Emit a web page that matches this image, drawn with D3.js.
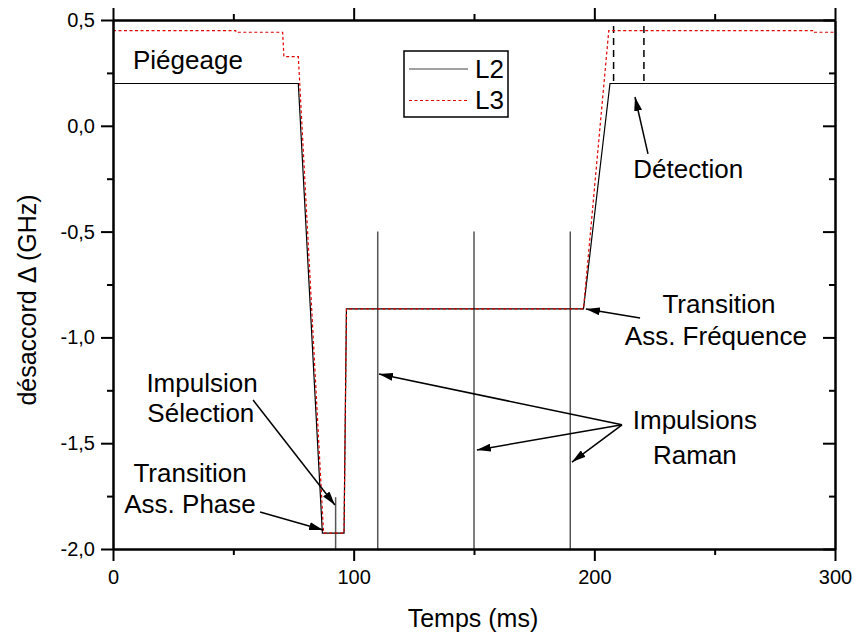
<!DOCTYPE html>
<html lang="fr">
<head>
<meta charset="UTF-8">
<title>désaccord vs temps</title>
<script src="https://d3js.org/d3.v7.min.js"></script>
<style>
  body { margin: 0; background: white; }
  svg { font-family: "Liberation Sans", Arial, sans-serif; }
  .axis path, .axis line { stroke: #000; stroke-width: 2px; }
  .axis text { font-size: 20px; fill: #000; }
  .note { font-size: 26px; fill: #000; }
</style>
</head>
<body>
<script>
// L2 (solid black) and L3 (dashed red) detuning curves, ms / GHz
const l2Time = [0, 77, 87, 96, 97, 195.5, 206.5, 300];
const l2Val  = [0.2, 0.2, -1.925, -1.925, -0.865, -0.865, 0.2, 0.2];
const l3Time = [0, 51, 51, 70.5, 71, 77, 87.5, 96, 97, 195.5, 206, 291, 291, 300];
const l3Val  = [0.45, 0.45, 0.442, 0.442, 0.327, 0.327, -1.925, -1.925, -0.865, -0.865, 0.45, 0.45, 0.442, 0.442];

const ramanPulses = [110, 150, 190];      // from -0.5 down to -2.0
const selectionPulse = 92.5;              // from -1.755 down to -2.0
const detectionMarks = [208, 220.6];      // dashed, 0.47 to 0.2

const xMajor = [0, 100, 200, 300];
const xMinor = [50, 150, 250];
const yMajor = [0.5, 0, -0.5, -1.0, -1.5, -2.0];
const yMinor = [0.25, -0.25, -0.75, -1.25, -1.75];

// annotations, data units
const labels = [
  {t: "Piégeage", x: 8.3, y: 0.268, a: "start"},
  {t: "Impulsion", x: 37, y: -1.258, a: "middle"},
  {t: "Sélection", x: 36.5, y: -1.40, a: "middle"},
  {t: "Transition", x: 32, y: -1.683, a: "middle"},
  {t: "Ass. Phase", x: 32, y: -1.83, a: "middle"},
  {t: "Détection", x: 239, y: -0.247, a: "middle"},
  {t: "Transition", x: 251.8, y: -0.885, a: "middle"},
  {t: "Ass. Fréquence", x: 250.5, y: -1.036, a: "middle"},
  {t: "Impulsions", x: 241.8, y: -1.433, a: "middle"},
  {t: "Raman", x: 241.8, y: -1.598, a: "middle"}
];
const arrows = [
  [58.2, -1.296, 92.2, -1.792],
  [61.1, -1.825, 87.3, -1.910],
  [222.3, -0.133, 216.9, 0.136],
  [219.0, -0.908, 196.5, -0.866],
  [211.5, -1.413, 110.5, -1.173],
  [211.5, -1.413, 151.2, -1.532],
  [211.5, -1.413, 190.7, -1.589]
];

const W = 854, H = 637;
const margin = {top: 20, right: 19, bottom: 88, left: 113};
const width = W - margin.left - margin.right;
const height = H - margin.top - margin.bottom;

const svg = d3.select("body").append("svg")
    .attr("width", W).attr("height", H);

svg.append("defs").append("marker")
    .attr("id", "head")
    .attr("viewBox", "0 0 14 8")
    .attr("refX", 14).attr("refY", 4)
    .attr("markerWidth", 14).attr("markerHeight", 8)
    .attr("markerUnits", "userSpaceOnUse")
    .attr("orient", "auto")
  .append("path")
    .attr("d", "M0,0L14,4L0,8Z")
    .attr("fill", "#000");

const g = svg.append("g")
    .attr("transform", "translate(" + margin.left + "," + margin.top + ")");

const x = d3.scaleLinear().domain([0, 300]).range([0, width]);
const y = d3.scaleLinear().domain([-2.0, 0.5]).range([height, 0]);

const fmt = v => v.toFixed(1).replace(".", ",");

// pulses
g.selectAll(".raman")
  .data(ramanPulses)
  .enter().append("line")
    .attr("x1", d => x(d)).attr("x2", d => x(d))
    .attr("y1", y(-0.5)).attr("y2", y(-2.0))
    .attr("stroke", "#555").attr("stroke-width", 1.5);

g.append("line")
    .attr("x1", x(selectionPulse)).attr("x2", x(selectionPulse))
    .attr("y1", y(-1.755)).attr("y2", y(-2.0))
    .attr("stroke", "#555").attr("stroke-width", 1.5);

g.selectAll(".detect")
  .data(detectionMarks)
  .enter().append("line")
    .attr("x1", d => x(d)).attr("x2", d => x(d))
    .attr("y1", y(0.472)).attr("y2", y(0.2))
    .attr("stroke", "#000").attr("stroke-width", 1.5)
    .attr("stroke-dasharray", "7,5");

// curves
const line = d3.line().x(d => x(d[0])).y(d => y(d[1]));

g.append("path")
    .datum(d3.zip(l2Time, l2Val))
    .attr("d", line)
    .attr("fill", "none")
    .attr("stroke", "#000").attr("stroke-width", 1.2);

g.append("path")
    .datum(d3.zip(l3Time, l3Val))
    .attr("d", line)
    .attr("fill", "none")
    .attr("stroke", "#e00000").attr("stroke-width", 1.2)
    .attr("stroke-dasharray", "3,2.5");

// axes
g.append("g").attr("class", "axis")
    .attr("transform", "translate(0," + height + ")")
    .call(d3.axisBottom(x).tickValues(xMajor).tickSize(12).tickSizeOuter(0)
      .tickPadding(9).tickFormat(d3.format("d")));
g.append("g").attr("class", "axis")
    .attr("transform", "translate(0," + height + ")")
    .call(d3.axisBottom(x).tickValues(xMinor).tickSize(6).tickSizeOuter(0).tickFormat(""));

g.append("g").attr("class", "axis")
    .call(d3.axisTop(x).tickValues(xMajor).tickSize(12).tickSizeOuter(0).tickFormat(""));
g.append("g").attr("class", "axis")
    .call(d3.axisTop(x).tickValues(xMinor).tickSize(6).tickSizeOuter(0).tickFormat(""));

g.append("g").attr("class", "axis")
    .call(d3.axisLeft(y).tickValues(yMajor).tickSize(12).tickSizeOuter(0)
      .tickPadding(6).tickFormat(fmt));
g.append("g").attr("class", "axis")
    .call(d3.axisLeft(y).tickValues(yMinor).tickSize(6).tickSizeOuter(0).tickFormat(""));

g.append("g").attr("class", "axis")
    .attr("transform", "translate(" + width + ",0)")
    .call(d3.axisRight(y).tickValues(yMajor).tickSize(-12).tickSizeOuter(0).tickFormat(""));
g.append("g").attr("class", "axis")
    .attr("transform", "translate(" + width + ",0)")
    .call(d3.axisRight(y).tickValues(yMinor).tickSize(-6).tickSizeOuter(0).tickFormat(""));

// axis titles
svg.append("text")
    .attr("x", margin.left + width / 2 - 1)
    .attr("y", 627)
    .attr("text-anchor", "middle")
    .style("font-size", "25px")
    .text("Temps (ms)");

svg.append("text")
    .attr("transform", "translate(36," + 300 + ")rotate(-90)")
    .attr("text-anchor", "middle")
    .style("font-size", "25px")
    .text("désaccord Δ (GHz)");

// annotations
g.selectAll(".note")
  .data(labels)
  .enter().append("text")
    .attr("class", "note")
    .attr("x", d => x(d.x)).attr("y", d => y(d.y))
    .attr("text-anchor", d => d.a)
    .text(d => d.t);

g.selectAll(".arrow")
  .data(arrows)
  .enter().append("line")
    .attr("x1", d => x(d[0])).attr("y1", d => y(d[1]))
    .attr("x2", d => x(d[2])).attr("y2", d => y(d[3]))
    .attr("stroke", "#000").attr("stroke-width", 1.5)
    .attr("marker-end", "url(#head)");

// legend
const leg = svg.append("g").attr("transform", "translate(404,51)");
leg.append("rect")
    .attr("width", 104).attr("height", 66)
    .attr("fill", "white").attr("stroke", "#000").attr("stroke-width", 1.5);
leg.append("line")
    .attr("x1", 5).attr("x2", 64).attr("y1", 18).attr("y2", 18)
    .attr("stroke", "#444").attr("stroke-width", 1.2);
leg.append("line")
    .attr("x1", 5).attr("x2", 64).attr("y1", 49.5).attr("y2", 49.5)
    .attr("stroke", "#e00000").attr("stroke-width", 1.2).attr("stroke-dasharray", "3,2.5");
leg.append("text").attr("class", "note").attr("x", 71).attr("y", 27).text("L2");
leg.append("text").attr("class", "note").attr("x", 71).attr("y", 58).text("L3");
</script>
</body>
</html>
